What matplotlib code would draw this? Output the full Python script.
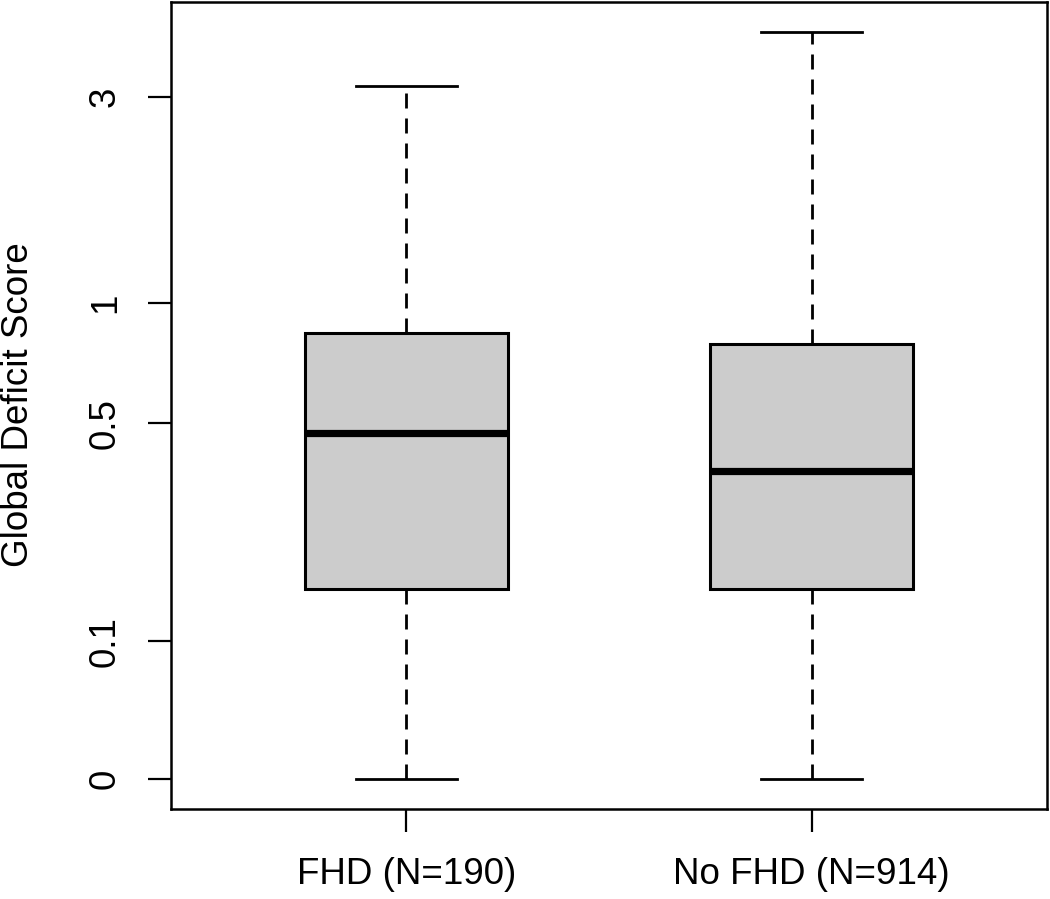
import numpy as np
import matplotlib
matplotlib.use("Agg")
import matplotlib.pyplot as plt

# Data
groups = ["FHD (N=190)", "No FHD (N=914)"]
whislo = [0.0, 0.0]
q1 = [0.160, 0.160]
med = [0.472, 0.372]
q3 = [0.846, 0.794]
whishi = [3.18, 4.20]
yticks = [0, 0.1, 0.5, 1, 3]
ytick_labels = ["0", "0.1", "0.5", "1", "3"]
ylabel = "Global Deficit Score"

OFF = 0.1
def fwd(x):
    return np.log(np.asarray(x, dtype=float) + OFF)
def inv(y):
    return np.exp(np.asarray(y, dtype=float)) - OFF

plt.rcParams['font.family'] = ['Liberation Sans', 'DejaVu Sans']
plt.rcParams['lines.scale_dashes'] = False

fig = plt.figure(figsize=(10.5, 8.99), dpi=100)
ax = fig.add_axes([171/1050, (899-809)/899, (1047-171)/1050, (809-2)/899])
ax.set_yscale('function', functions=(fwd, inv))

stats = []
for i in range(len(groups)):
    stats.append(dict(med=med[i], q1=q1[i], q3=q3[i],
                      whislo=whislo[i], whishi=whishi[i], fliers=[]))

positions = np.arange(1, len(groups) + 1)
ax.bxp(stats, positions=positions, widths=0.5, patch_artist=True,
       showfliers=False,
       boxprops=dict(facecolor='#cccccc', edgecolor='black', linewidth=2.2),
       medianprops=dict(color='black', linewidth=5.2, solid_capstyle='butt'),
       whiskerprops=dict(color='black', linewidth=2.0, linestyle=(0, (10.8, 7.2))),
       capprops=dict(color='black', linewidth=2.0),
       capwidths=0.25)

# limits like R (4% extension)
lo_t, hi_t = fwd(min(whislo)), fwd(max(whishi))
r = hi_t - lo_t
ax.set_ylim(inv(lo_t - 0.04 * r), inv(hi_t + 0.04 * r))
ax.set_xlim(0.42, 2.58)

ax.set_yticks(yticks)
ax.set_yticklabels(ytick_labels, rotation=90, va='center')
ax.set_xticks(positions)
ax.set_xticklabels(groups)
ax.yaxis.set_minor_locator(matplotlib.ticker.NullLocator())
ax.tick_params(axis='both', length=16.5, width=1.6, labelsize=26.5, direction='out')
ax.tick_params(axis='x', pad=18)
ax.tick_params(axis='y', pad=18)
for s in ax.spines.values():
    s.set_linewidth(1.8)

fig.text(19/1050, 1 - 405/899, ylabel, rotation=90, ha='center', va='center',
         fontsize=26.5)

fig.savefig("out.png", dpi=100)
